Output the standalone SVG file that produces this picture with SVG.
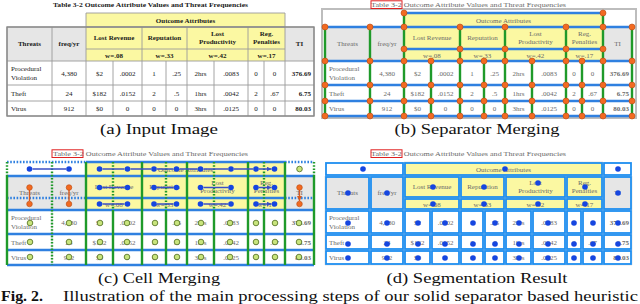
<svg xmlns="http://www.w3.org/2000/svg" xmlns:xlink="http://www.w3.org/1999/xlink" width="640" height="304" viewBox="0 0 640 304">
<style>
text{font-family:"Liberation Serif","DejaVu Serif",serif}
.t{font-size:7px}
.m{text-anchor:middle}
.e{text-anchor:end}
.cap{font-size:15px;text-anchor:middle;fill:#111}
.sh{stroke:#2f80e0;stroke-width:2.4;fill:none}
.sv{stroke:#1f9a2a;stroke-width:2.4;fill:none}
.dt{stroke-dasharray:1.6 1.6}
.od{fill:#f26a21;stroke:#b84a12;stroke-width:0.6}
.bd{fill:#1646e0}
.gd{fill:#c8e47c;stroke:#4d6b1c;stroke-width:0.8}
.arr{stroke:#3b4fc6;stroke-width:1.4;fill:none;marker-end:url(#ab)}
.arro{stroke:#d95a1e;stroke-width:1.4;fill:none;marker-end:url(#ao)}
.cell{fill:none;stroke:#1e8ef0;stroke-width:1.8}
.red{fill:none;stroke:#e02020;stroke-width:1}
.frame{fill:none;stroke:#bdbdbd;stroke-width:2}
</style>
<defs>
<marker id="ab" viewBox="0 0 6 6" refX="6" refY="3" markerWidth="5" markerHeight="5" markerUnits="userSpaceOnUse" orient="auto"><path d="M0,0L6,3L0,6z" fill="#3b4fc6"/></marker>
<marker id="ao" viewBox="0 0 6 6" refX="6" refY="3" markerWidth="5" markerHeight="5" markerUnits="userSpaceOnUse" orient="auto"><path d="M0,0L6,3L0,6z" fill="#d95a1e"/></marker>
<g id="bg">
<rect x="79" y="13" width="199" height="48" fill="#fbf8a2" stroke="none"/>
<rect x="0" y="27" width="79" height="34" fill="#e6e6e6" stroke="none"/>
<rect x="278" y="27" width="29" height="34" fill="#e6e6e6" stroke="none"/>
<path fill="none" d="M79,13H278V116M79,13V116M0,27H307V116H0ZM79,27H278M79,49H278M0,61H307M0,85H307M0,101H307M45,27V116M135,27V116M180,27V116M241,27V116M106,61V116M159,61V116M207,61V116M257,61V116"/>
</g>
<g id="hdr" class="t">
<text x="46" y="7" textLength="195" lengthAdjust="spacingAndGlyphs">Table 3-2 Outcome Attribute Values and Threat Frequencies</text>
<text class="m" x="178.5" y="22.5">Outcome Attributes</text>
<text class="m" x="22.5" y="46">Threats</text>
<text class="m" x="62" y="46">freq/yr</text>
<text class="m" x="107" y="40">Lost Revenue</text>
<text class="m" x="157.5" y="40">Reputation</text>
<text class="m" x="210.5" y="35.5">Lost</text>
<text class="m" x="210.5" y="43.5">Productivity</text>
<text class="m" x="259.5" y="35.5">Reg.</text>
<text class="m" x="259.5" y="43.5">Penalties</text>
<text class="m" x="292.5" y="46">TI</text>
<text class="m" x="107" y="57.5">w=.08</text>
<text class="m" x="157.5" y="57.5">w=.33</text>
<text class="m" x="210.5" y="57.5">w=.42</text>
<text class="m" x="259.5" y="57.5">w=.17</text>
</g>
<g id="dat" class="t">
<text x="4" y="71">Procedural</text>
<text x="4" y="80">Violation</text>
<text class="m" x="62" y="75.5">4,380</text>
<text class="m" x="92.5" y="75.5">$2</text>
<text class="m" x="120.5" y="75.5">.0002</text>
<text class="m" x="147" y="75.5">1</text>
<text class="m" x="169.5" y="75.5">.25</text>
<text class="m" x="193.5" y="75.5">2hrs</text>
<text class="m" x="224" y="75.5">.0083</text>
<text class="m" x="249" y="75.5">0</text>
<text class="m" x="267.5" y="75.5">0</text>
<text class="e" x="304" y="75.5" font-weight="bold">376.69</text>
<text x="4" y="95.5">Theft</text>
<text class="m" x="62" y="95.5">24</text>
<text class="m" x="92.5" y="95.5">$182</text>
<text class="m" x="120.5" y="95.5">.0152</text>
<text class="m" x="147" y="95.5">2</text>
<text class="m" x="169.5" y="95.5">.5</text>
<text class="m" x="193.5" y="95.5">1hrs</text>
<text class="m" x="224" y="95.5">.0042</text>
<text class="m" x="249" y="95.5">2</text>
<text class="m" x="267.5" y="95.5">.67</text>
<text class="e" x="304" y="95.5" font-weight="bold">6.75</text>
<text x="4" y="111">Virus</text>
<text class="m" x="62" y="111">912</text>
<text class="m" x="92.5" y="111">$0</text>
<text class="m" x="120.5" y="111">0</text>
<text class="m" x="147" y="111">0</text>
<text class="m" x="169.5" y="111">0</text>
<text class="m" x="193.5" y="111">3hrs</text>
<text class="m" x="224" y="111">.0125</text>
<text class="m" x="249" y="111">0</text>
<text class="m" x="267.5" y="111">0</text>
<text class="e" x="304" y="111" font-weight="bold">80.03</text>
</g>
</defs>

<g id="panel-a" transform="translate(7,0)">
<use xlink:href="#bg" stroke="#9a9a9a" stroke-width="0.9"/>
<rect x="0" y="27" width="307" height="89" fill="none" stroke="#8a8a8a" stroke-width="1.4"/>
<use xlink:href="#hdr" fill="#1a1a1a" font-weight="bold"/>
<use xlink:href="#dat" fill="#1a1a1a"/>
</g>

<g id="panel-b" transform="translate(325,0)">
<use xlink:href="#bg" stroke="#d0d0d0" stroke-width="0.8"/>
<rect class="frame" x="-3" y="9" width="314" height="109"/>
<use xlink:href="#hdr" fill="#6a6a6a" font-weight="normal"/>
<use xlink:href="#dat" fill="#6a6a6a"/>
<rect class="red" x="46" y="0.8" width="31" height="7.7"/>
<g id="b-separators">
<path class="sh" d="M79,13H278M0,27H307M79,49H278M0,61H307M0,85H307M0,101H307M0,116H307"/>
<path class="sv" d="M0,27V116M45,27V116M79,13V116M106,61V116M135,27V116M159,61V116M180,27V116M207,61V116M241,27V116M257,61V116M278,13V116M307,27V116"/>
</g>
<g id="b-junctions">
<circle class="od" cx="79" cy="13" r="3"/><circle class="od" cx="278" cy="13" r="3"/>
<circle class="od" cx="0" cy="27" r="3"/><circle class="od" cx="45" cy="27" r="3"/><circle class="od" cx="79" cy="27" r="3"/><circle class="od" cx="135" cy="27" r="3"/><circle class="od" cx="180" cy="27" r="3"/><circle class="od" cx="241" cy="27" r="3"/><circle class="od" cx="278" cy="27" r="3"/><circle class="od" cx="307" cy="27" r="3"/>
<circle class="od" cx="79" cy="49" r="3"/><circle class="od" cx="135" cy="49" r="3"/><circle class="od" cx="180" cy="49" r="3"/><circle class="od" cx="241" cy="49" r="3"/><circle class="od" cx="278" cy="49" r="3"/>
<g id="jrow">
<circle class="od" cx="0" cy="61" r="3"/><circle class="od" cx="45" cy="61" r="3"/><circle class="od" cx="79" cy="61" r="3"/><circle class="od" cx="106" cy="61" r="3"/><circle class="od" cx="135" cy="61" r="3"/><circle class="od" cx="159" cy="61" r="3"/><circle class="od" cx="180" cy="61" r="3"/><circle class="od" cx="207" cy="61" r="3"/><circle class="od" cx="241" cy="61" r="3"/><circle class="od" cx="257" cy="61" r="3"/><circle class="od" cx="278" cy="61" r="3"/><circle class="od" cx="307" cy="61" r="3"/>
</g>
<use xlink:href="#jrow" transform="translate(0,24)"/>
<use xlink:href="#jrow" transform="translate(0,40)"/>
<use xlink:href="#jrow" transform="translate(0,55)"/>
</g>
</g>

<g id="panel-c" transform="translate(7,149)">
<use xlink:href="#bg" stroke="#d0d0d0" stroke-width="0.8"/>
<use xlink:href="#hdr" fill="#6a6a6a" font-weight="normal"/>
<use xlink:href="#dat" fill="#6a6a6a"/>
<rect class="red" x="45" y="0.8" width="31" height="7.7"/>
<g id="c-separators">
<path class="sh dt" d="M0,13H79M278,13H307M0,49H79M278,49H307"/>
<path class="sh" d="M79,13H278M0,27H307M79,49H278M0,61H307M0,85H307M0,101H307M0,116H307"/>
<path class="sv dt" d="M0,13V27M45,13V116M106,13V61M159,13V61M207,13V61M257,13V61M307,13V27"/>
<path class="sv" d="M0,27V116M79,13V116M106,61V116M135,13V116M159,61V116M180,13V116M207,61V116M241,13V116M257,61V116M278,13V116M307,27V116"/>
</g>
<g id="c-connectors">
<path class="arr" d="M25.5,20H59M95.5,20H117.5M123.5,20H144M150,20H166.5M172.5,20H190.5M196.5,20H221M227,20H246M252,20H264.5"/>
<path class="arr" d="M95.5,38.5H117.5M150,38.5H166.5M196.5,38.5H221M252,38.5H264.5"/>
<path class="arr" d="M95.5,55H117.5M150,55H166.5M196.5,55H221M252,55H264.5"/>
<path class="arro" d="M22.5,41V52M62,41V52M292.5,41V52"/>
</g>
<g id="c-nodes">
<circle class="bd" cx="22.5" cy="20" r="2.8"/><circle class="bd" cx="62" cy="20" r="2.8"/>
<circle class="bd" cx="92.5" cy="20" r="2.8"/><circle class="bd" cx="120.5" cy="20" r="2.8"/><circle class="bd" cx="147" cy="20" r="2.8"/><circle class="bd" cx="169.5" cy="20" r="2.8"/><circle class="bd" cx="193.5" cy="20" r="2.8"/><circle class="bd" cx="224" cy="20" r="2.8"/><circle class="bd" cx="249" cy="20" r="2.8"/><circle class="bd" cx="267.5" cy="20" r="2.8"/>
<circle class="gd" cx="292.5" cy="20" r="2.8"/>
<circle class="bd" cx="92.5" cy="38.5" r="2.8"/><circle class="bd" cx="120.5" cy="38.5" r="2.8"/><circle class="bd" cx="147" cy="38.5" r="2.8"/><circle class="bd" cx="169.5" cy="38.5" r="2.8"/><circle class="bd" cx="193.5" cy="38.5" r="2.8"/><circle class="bd" cx="224" cy="38.5" r="2.8"/><circle class="bd" cx="249" cy="38.5" r="2.8"/><circle class="bd" cx="267.5" cy="38.5" r="2.8"/>
<circle class="bd" cx="92.5" cy="55" r="2.8"/><circle class="bd" cx="120.5" cy="55" r="2.8"/><circle class="bd" cx="147" cy="55" r="2.8"/><circle class="bd" cx="169.5" cy="55" r="2.8"/><circle class="bd" cx="193.5" cy="55" r="2.8"/><circle class="bd" cx="224" cy="55" r="2.8"/><circle class="bd" cx="249" cy="55" r="2.8"/><circle class="bd" cx="267.5" cy="55" r="2.8"/>
<circle class="od" cx="22.5" cy="38.5" r="2.8"/><circle class="od" cx="22.5" cy="55" r="2.8"/>
<circle class="od" cx="62" cy="38.5" r="2.8"/><circle class="od" cx="62" cy="55" r="2.8"/>
<circle class="od" cx="292.5" cy="38.5" r="2.8"/><circle class="od" cx="292.5" cy="55" r="2.8"/>
<g id="grow">
<circle class="gd" cx="23" cy="74" r="2.8"/><circle class="gd" cx="62" cy="74" r="2.8"/><circle class="gd" cx="93" cy="74" r="2.8"/><circle class="gd" cx="120" cy="74" r="2.8"/><circle class="gd" cx="148" cy="74" r="2.8"/><circle class="gd" cx="170" cy="74" r="2.8"/><circle class="gd" cx="194" cy="74" r="2.8"/><circle class="gd" cx="223" cy="74" r="2.8"/><circle class="gd" cx="249" cy="74" r="2.8"/><circle class="gd" cx="268" cy="74" r="2.8"/><circle class="gd" cx="292" cy="74" r="2.8"/>
</g>
<use xlink:href="#grow" transform="translate(0,19)"/>
<use xlink:href="#grow" transform="translate(0,34)"/>
</g>
</g>

<g id="panel-d" transform="translate(325,149)">
<use xlink:href="#bg" stroke="#d8d8d8" stroke-width="0.7"/>
<use xlink:href="#hdr" fill="#6a6a6a" font-weight="normal"/>
<use xlink:href="#dat" fill="#6a6a6a"/>
<rect class="red" x="46" y="0.8" width="31" height="7.7"/>
<g id="d-cells">
<rect class="cell" x="1" y="14" width="77" height="12"/><rect class="cell" x="80" y="14" width="197" height="12"/><rect class="cell" x="279" y="14" width="27" height="12"/>
<rect class="cell" x="1" y="28" width="43" height="32"/><rect class="cell" x="46" y="28" width="32" height="32"/>
<rect class="cell" x="80" y="28" width="54" height="20"/><rect class="cell" x="136" y="28" width="43" height="20"/><rect class="cell" x="181" y="28" width="59" height="20"/><rect class="cell" x="242" y="28" width="35" height="20"/>
<rect class="cell" x="279" y="28" width="27" height="32"/>
<rect class="cell" x="80" y="50" width="54" height="10"/><rect class="cell" x="136" y="50" width="43" height="10"/><rect class="cell" x="181" y="50" width="59" height="10"/><rect class="cell" x="242" y="50" width="35" height="10"/>
<rect class="cell" x="1" y="62" width="43" height="22"/><rect class="cell" x="46" y="62" width="32" height="22"/><rect class="cell" x="80" y="62" width="25" height="22"/><rect class="cell" x="107" y="62" width="27" height="22"/><rect class="cell" x="136" y="62" width="22" height="22"/><rect class="cell" x="160" y="62" width="19" height="22"/><rect class="cell" x="181" y="62" width="25" height="22"/><rect class="cell" x="208" y="62" width="32" height="22"/><rect class="cell" x="242" y="62" width="14" height="22"/><rect class="cell" x="258" y="62" width="19" height="22"/><rect class="cell" x="279" y="62" width="27" height="22"/>
<rect class="cell" x="1" y="86" width="43" height="14"/><rect class="cell" x="46" y="86" width="32" height="14"/><rect class="cell" x="80" y="86" width="25" height="14"/><rect class="cell" x="107" y="86" width="27" height="14"/><rect class="cell" x="136" y="86" width="22" height="14"/><rect class="cell" x="160" y="86" width="19" height="14"/><rect class="cell" x="181" y="86" width="25" height="14"/><rect class="cell" x="208" y="86" width="32" height="14"/><rect class="cell" x="242" y="86" width="14" height="14"/><rect class="cell" x="258" y="86" width="19" height="14"/><rect class="cell" x="279" y="86" width="27" height="14"/>
<rect class="cell" x="1" y="102" width="43" height="13"/><rect class="cell" x="46" y="102" width="32" height="13"/><rect class="cell" x="80" y="102" width="25" height="13"/><rect class="cell" x="107" y="102" width="27" height="13"/><rect class="cell" x="136" y="102" width="22" height="13"/><rect class="cell" x="160" y="102" width="19" height="13"/><rect class="cell" x="181" y="102" width="25" height="13"/><rect class="cell" x="208" y="102" width="32" height="13"/><rect class="cell" x="242" y="102" width="14" height="13"/><rect class="cell" x="258" y="102" width="19" height="13"/><rect class="cell" x="279" y="102" width="27" height="13"/>
</g>
<g id="d-centres">
<circle class="bd" cx="38" cy="20" r="2.8"/><circle class="bd" cx="180" cy="20" r="2.8"/><circle class="bd" cx="293" cy="20" r="2.8"/>
<circle class="bd" cx="23" cy="44" r="2.8"/><circle class="bd" cx="62" cy="44" r="2.8"/><circle class="bd" cx="293" cy="44" r="2.8"/>
<circle class="bd" cx="108" cy="38" r="2.8"/><circle class="bd" cx="159" cy="38" r="2.8"/><circle class="bd" cx="213" cy="34" r="2.8"/><circle class="bd" cx="260" cy="38" r="2.8"/>
<circle class="bd" cx="108" cy="55" r="2.8"/><circle class="bd" cx="159" cy="55" r="2.8"/><circle class="bd" cx="213" cy="55" r="2.8"/><circle class="bd" cx="260" cy="55" r="2.8"/>
<g id="brow">
<circle class="bd" cx="23" cy="74" r="2.8"/><circle class="bd" cx="62" cy="74" r="2.8"/><circle class="bd" cx="93" cy="74" r="2.8"/><circle class="bd" cx="120" cy="74" r="2.8"/><circle class="bd" cx="148" cy="74" r="2.8"/><circle class="bd" cx="170" cy="74" r="2.8"/><circle class="bd" cx="194" cy="74" r="2.8"/><circle class="bd" cx="223" cy="74" r="2.8"/><circle class="bd" cx="249" cy="74" r="2.8"/><circle class="bd" cx="268" cy="74" r="2.8"/><circle class="bd" cx="293" cy="74" r="2.8"/>
</g>
<use xlink:href="#brow" transform="translate(0,21)"/>
<use xlink:href="#brow" transform="translate(0,35)"/>
</g>
</g>

<g id="captions">
<text class="cap" x="159" y="134" textLength="118" lengthAdjust="spacingAndGlyphs">(a) Input Image</text>
<text class="cap" x="477" y="134" textLength="165" lengthAdjust="spacingAndGlyphs">(b) Separator Merging</text>
<text class="cap" x="159" y="283" textLength="122" lengthAdjust="spacingAndGlyphs">(c) Cell Merging</text>
<text class="cap" x="477" y="283" textLength="181" lengthAdjust="spacingAndGlyphs">(d) Segmentation Result</text>
<text x="1" y="300.5" font-size="14" font-weight="bold" fill="#111" textLength="42" lengthAdjust="spacingAndGlyphs">Fig. 2.</text>
<text x="63" y="300.5" font-size="14" fill="#111" textLength="575" lengthAdjust="spacingAndGlyphs">Illustration of the main processing steps of our solid separator based heuristic</text>
</g>
</svg>
